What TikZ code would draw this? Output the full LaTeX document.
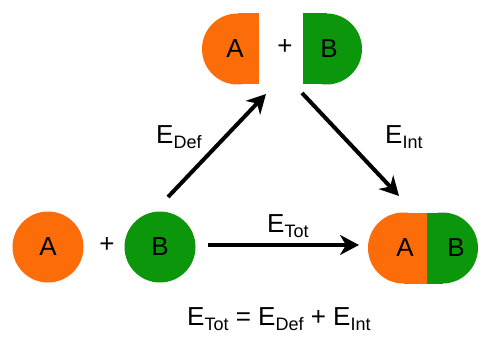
\documentclass[tikz,border=0pt]{standalone}
\usepackage{fontspec}
\setmainfont{Liberation Sans}
\usetikzlibrary{arrows.meta}
\definecolor{orA}{RGB}{252,108,8}
\definecolor{grB}{RGB}{12,150,12}
\newcommand{\subtxt}[1]{{\fontsize{18}{20}\selectfont\raisebox{-5.5pt}{#1}}}
\begin{document}
\begin{tikzpicture}[x=1pt,y=-1pt,
  every node/.style={font=\fontsize{26}{30}\selectfont, inner sep=0pt},
  orfill/.style={fill=orA, draw=none},
  grfill/.style={fill=grB, draw=none},
  ball/.style={circle, minimum size=71pt},
  bigarrow/.style={line width=4pt, -{Stealth[length=19pt,width=20pt,inset=6pt]}},
  lbl/.style={anchor=base west}
]
\useasboundingbox (0,0) rectangle (480,337);
% left reactants
\node[ball, orfill] (a1) at (48,247) {A};
\node (p1) at (107,245) {+};
\node[ball, grfill] (b1) at (160,247) {B};
% top deformed fragments
\begin{scope}
  \clip (0,0) rectangle (259,337);
  \fill[orA] (237.5,49) circle[radius=35.5];
\end{scope}
\fill[orA] (237.5,13.5) rectangle (259,84.5);
\begin{scope}
  \clip (303,0) rectangle (480,337);
  \fill[grB] (326.5,49) circle[radius=35.5];
\end{scope}
\fill[grB] (303,13.5) rectangle (326.5,84.5);
\node (a2) at (235,49) {A};
\node (p2) at (285,47) {+};
\node (b2) at (329,49) {B};
% product
\begin{scope}
  \clip (0,0) rectangle (427,337);
  \fill[orA] (403.5,248) circle[radius=35.5];
\end{scope}
\fill[orA] (403.5,212.5) rectangle (427,283.5);
\begin{scope}
  \clip (427,0) rectangle (480,337);
  \fill[grB] (442.5,248) circle[radius=35.5];
\end{scope}
\fill[grB] (427,212.5) rectangle (442.5,283.5);
\node (a3) at (405,248) {A};
\node (b3) at (456,248) {B};
% arrow anchors
\coordinate (s1) at (168,197);
\coordinate (t1) at (266,94);
\coordinate (s2) at (302,93);
\coordinate (t2) at (399,196);
\coordinate (s3) at (208,245);
\coordinate (t3) at (359,245);
\draw[bigarrow] (s1) -- (t1);
\draw[bigarrow] (s2) -- (t2);
\draw[bigarrow] (s3) -- (t3);
% labels
\node[lbl] (eDef) at (156,143) {E\subtxt{Def}};
\node[lbl] (eInt) at (385,143) {E\subtxt{Int}};
\node[lbl] (eTot) at (267,232) {E\subtxt{Tot}};
\node[lbl] (eq) at (187,325) {E\subtxt{Tot} = E\subtxt{Def} + E\subtxt{Int}};
\end{tikzpicture}
\end{document}
